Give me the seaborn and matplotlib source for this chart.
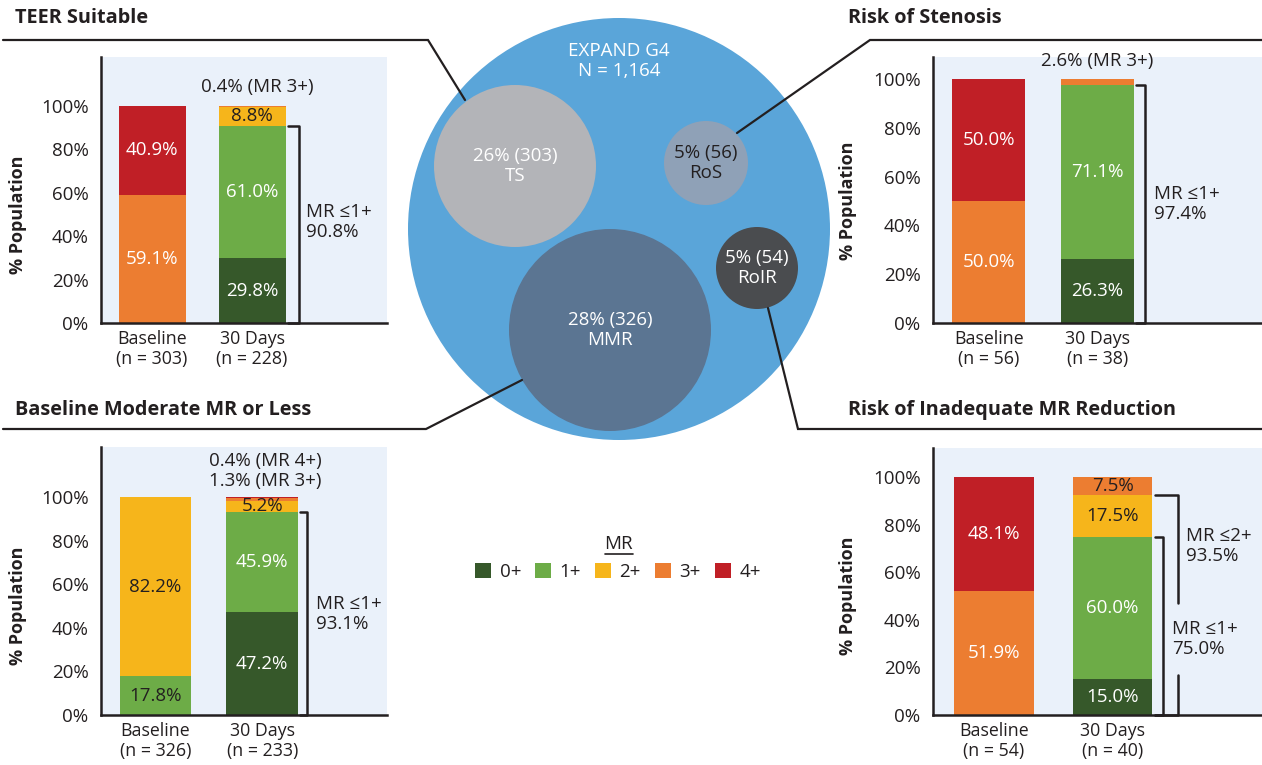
import numpy as np
import pandas as pd
import matplotlib
matplotlib.use("Agg")
import matplotlib.pyplot as plt
from matplotlib.patches import Circle, Patch
import seaborn as sns

# MR grades and their colours
mr_grades = ["0+", "1+", "2+", "3+", "4+"]
mr_colors = ["#36582a", "#6dac47", "#f6b51b", "#ec7d31", "#c01f26"]

# % population in each MR grade (0+ .. 4+), baseline and 30 days
teer_base = [0, 0, 0, 59.1, 40.9]
teer_30d = [29.8, 61.0, 8.8, 0.4, 0]
teer_n = [303, 228]
teer_bracket = ["90.8%"]

mmr_base = [0, 17.8, 82.2, 0, 0]
mmr_30d = [47.2, 45.9, 5.2, 1.3, 0.4]
mmr_n = [326, 233]
mmr_bracket = ["93.1%"]

ros_base = [0, 0, 0, 50.0, 50.0]
ros_30d = [26.3, 71.1, 0, 2.6, 0]
ros_n = [56, 38]
ros_bracket = ["97.4%"]

roir_base = [0, 0, 0, 51.9, 48.1]
roir_30d = [15.0, 60.0, 17.5, 7.5, 0]
roir_n = [54, 40]
roir_bracket = ["75.0%", "93.5%"]

# cohorts in the bubble diagram
total_n = 1164
cohorts = ["TS", "RoS", "MMR", "RoIR"]
cohort_n = [303, 56, 326, 54]

sns.set_style("white")
plt.rcParams["font.family"] = ["Open Sans", "DejaVu Sans"]
DARK = "#231f20"
W, H = 1262, 765
FS = 13.5

fig = plt.figure(figsize=(12.62, 7.65), dpi=100)

# background axes in pixel units for bubbles, connectors and titles
bg = fig.add_axes([0, 0, 1, 1])
bg.set_xlim(0, W)
bg.set_ylim(H, 0)
bg.axis("off")

bg.add_patch(Circle((619, 229), 211, color="#5aa5d9", lw=0, zorder=1))
bubble_xy = [(515, 166), (706, 163), (610, 330), (757, 268)]
bubble_r = [81, 42, 101, 41]
bubble_col = ["#b3b4b8", "#8fa1b7", "#5b7592", "#4a4c4f"]
bubble_txt = ["white", DARK, "white", "white"]
for name, n, xy, r, c, tc in zip(cohorts, cohort_n, bubble_xy, bubble_r, bubble_col, bubble_txt):
    bg.add_patch(Circle(xy, r, color=c, lw=0, zorder=2))
    pct = round(n / total_n * 100)
    bg.text(xy[0], xy[1], f"{pct}% ({n})\n{name}", color=tc, fontsize=FS,
            ha="center", va="center", linespacing=1.2, zorder=3)
bg.text(619, 61, f"EXPAND G4\nN = {total_n:,}", color="white", fontsize=FS,
        ha="center", va="center", linespacing=1.15, zorder=3)

connectors = [
    [(3, 40), (428, 40), (465, 100)],
    [(737, 133), (870, 40), (1262, 40)],
    [(522, 380), (426, 429), (3, 429)],
    [(768, 308), (798, 429), (1262, 429)],
]
for pts in connectors:
    xs, ys = zip(*pts)
    bg.plot(xs, ys, color=DARK, lw=1.6, zorder=4, solid_joinstyle="miter")

titles = [("TEER Suitable", 15, 18), ("Risk of Stenosis", 848, 18),
          ("Baseline Moderate MR or Less", 15, 410),
          ("Risk of Inadequate MR Reduction", 848, 410)]
for t, x, y in titles:
    bg.text(x, y, t, fontsize=14.3, fontweight="bold", color=DARK, va="center", ha="left")


def px_axes(x0, y0, x1, y1):
    return fig.add_axes([x0 / W, 1 - y1 / H, (x1 - x0) / W, (y1 - y0) / H])


def panel(box, base, d30, n, ytop, xright, dark, ylab_px, note_xy, brackets):
    ax = px_axes(*box)
    ax.set_facecolor("#eaf1fa")
    cats = [f"Baseline\n(n = {n[0]})", f"30 Days\n(n = {n[1]})"]
    df = pd.DataFrame({"grade": mr_grades, cats[0]: base, cats[1]: d30})
    long = df.melt(id_vars="grade", var_name="time", value_name="pct")
    long["top"] = long.groupby("time")["pct"].cumsum()
    # stack by overdrawing cumulative bars from the top grade down
    for g, c in reversed(list(zip(mr_grades, mr_colors))):
        sub = long[long["grade"] == g]
        sns.barplot(data=sub, x="time", y="top", order=cats, color=c, saturation=1,
                    width=0.67, errorbar=None, linewidth=0, ax=ax)
    # segment labels
    for i, vals in enumerate([base, d30]):
        bottom = 0
        for k, v in enumerate(vals):
            if v >= 5:
                col = DARK if (k == 2 or (i, k) in dark) else "white"
                ax.text(i, bottom + v / 2, f"{v:.1f}%", ha="center", va="center",
                        color=col, fontsize=FS)
            bottom += v
    # small segments written above the 30 day bar
    small = [f"{d30[k]}% (MR {mr_grades[k]})" for k in range(4, -1, -1) if 0 < d30[k] < 5]
    if small:
        ax.text(note_xy[0], note_xy[1], "\n".join(small), ha="center", va="center",
                color=DARK, fontsize=FS, linespacing=1.15, clip_on=False)
    # brackets
    xs = 1.355
    cum = np.cumsum(d30)
    for lvl, xe, tx, ty, txt, gap in brackets:
        top = cum[lvl]
        if gap:
            ax.plot([xs, xe, xe], [top, top, gap[0]], color=DARK, lw=1.8, clip_on=False)
            ax.plot([xe, xe, xs], [gap[1], 0, 0], color=DARK, lw=1.8, clip_on=False)
        else:
            ax.plot([xs, xe, xe, xs], [top, top, 0, 0], color=DARK, lw=1.8, clip_on=False)
        ax.text(tx, ty, f"MR \u2264{mr_grades[lvl]}\n{txt}", ha="left", va="center",
                color=DARK, fontsize=FS, linespacing=1.15)
    ax.set_ylim(0, ytop)
    ax.set_xlim(-0.51, xright)
    ax.set_yticks(range(0, 101, 20))
    ax.set_yticklabels([f"{v}%" for v in range(0, 101, 20)])
    ax.tick_params(axis="y", length=6, width=1.8, labelsize=13.5, pad=3, colors=DARK)
    ax.tick_params(axis="x", length=0, labelsize=12.8, pad=5, colors=DARK)
    for lab in ax.get_xticklabels():
        lab.set_linespacing(1.15)
    ax.set_xlabel("")
    ax.set_ylabel("% Population", fontsize=13, fontweight="bold", color=DARK)
    ax.yaxis.set_label_coords((ylab_px - box[0]) / (box[2] - box[0]), 50 / ytop)
    sns.despine(ax=ax)
    for s in ["left", "bottom"]:
        ax.spines[s].set_linewidth(1.8)
        ax.spines[s].set_color(DARK)
    return ax


panel((101, 57, 387, 323), teer_base, teer_30d, teer_n, 122.6, 2.35, set(), 27,
      (1.05, 108.8), [(1, 1.47, 1.54, 46.5, teer_bracket[0], None)])
panel((101, 447, 387, 715), mmr_base, mmr_30d, mmr_n, 123, 2.168, {(0, 1)}, 27,
      (1.03, 112), [(1, 1.42, 1.50, 46.3, mmr_bracket[0], None)])
panel((933, 57, 1262, 323), ros_base, ros_30d, ros_n, 109, 2.509, set(), 857,
      (1.0, 107.4), [(1, 1.436, 1.52, 48.8, ros_bracket[0], None)])
panel((933, 448, 1262, 715), roir_base, roir_30d, roir_n, 112.2, 2.256, {(1, 3)}, 857,
      (1.0, 107), [(1, 1.424, 1.50, 32, roir_bracket[0], None),
                   (2, 1.55, 1.617, 71, roir_bracket[1], (47, 16.8))])

# legend
handles = [Patch(facecolor=c, edgecolor="none", label=g) for g, c in zip(mr_grades, mr_colors)]
leg = fig.legend(handles=handles, ncol=5, loc="center", bbox_to_anchor=(618 / W, 1 - 558 / H),
                 frameon=False, title="MR", fontsize=FS, title_fontsize=FS,
                 handlelength=0.85, handleheight=0.85, handletextpad=0.45, columnspacing=0.75)
for t in leg.get_texts():
    t.set_color(DARK)
leg.get_title().set_color(DARK)
bg.plot([605, 633], [554, 554], color=DARK, lw=1.2)

fig.savefig("out.png", dpi=100)
